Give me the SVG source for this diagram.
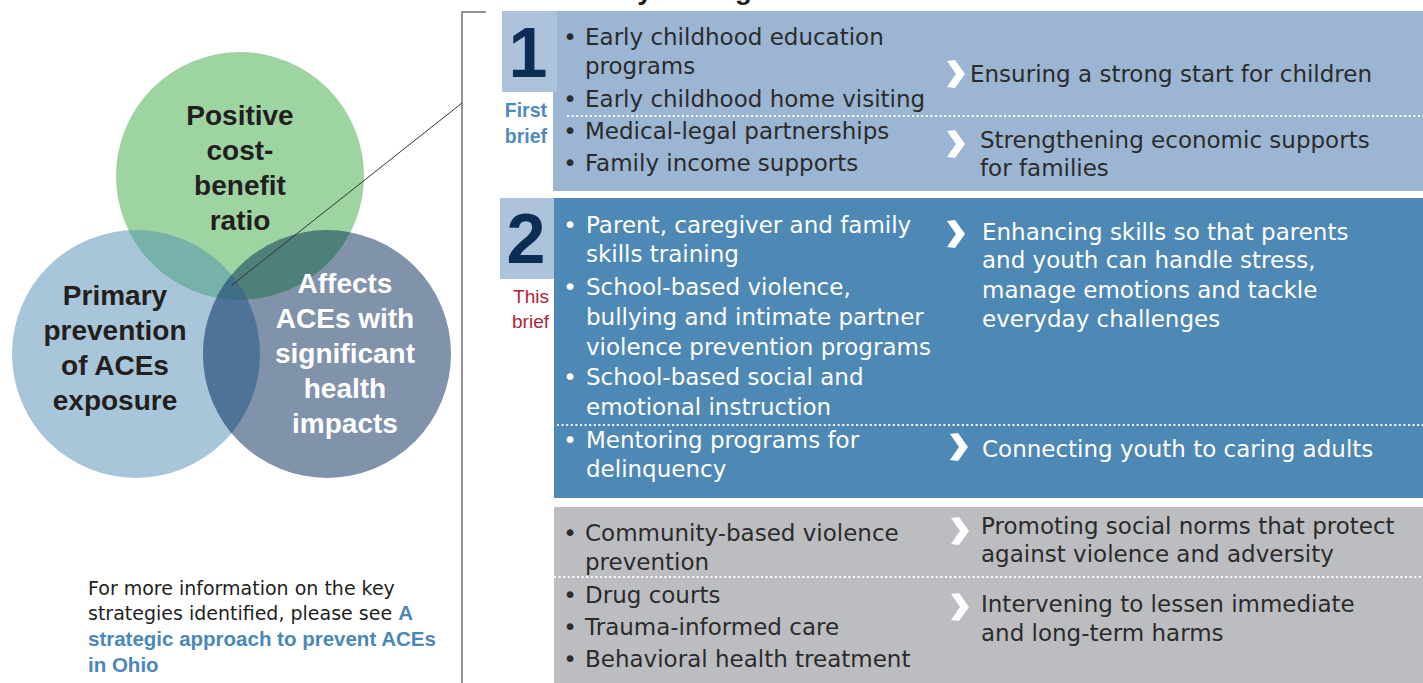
<svg xmlns="http://www.w3.org/2000/svg" width="1423" height="683" viewBox="0 0 1423 683">
  <style>
    .venn { font-family: "Liberation Sans", Arial, sans-serif; font-weight: bold; font-size: 28px; text-anchor: middle; }
    .dark { fill: #231f20; }
    .light { fill: #ffffff; }
    .item { font-family: "DejaVu Sans", "Liberation Sans", sans-serif; font-size: 23px; }
    .ink { fill: #2b2b2b; }
    .bullet { text-anchor: middle; }
    .num { font-family: "Liberation Sans", Arial, sans-serif; font-weight: bold; font-size: 70px; fill: #0d2c56; text-anchor: middle; }
    .tag-first { font-family: "Liberation Sans", Arial, sans-serif; font-weight: bold; font-size: 19.5px; fill: #4f8abb; text-anchor: end; }
    .tag-this { font-family: "Liberation Sans", Arial, sans-serif; font-size: 19px; fill: #b0223a; text-anchor: end; }
    .dots { stroke: #ffffff; stroke-width: 2; stroke-dasharray: 2 2.6; fill: none; }
    .chev { fill: #ffffff; }
    .note { font-family: "DejaVu Sans", "Liberation Sans", sans-serif; font-size: 19px; fill: #231f20; }
    .link { font-family: "Liberation Sans", Arial, sans-serif; font-weight: bold; font-size: 20.5px; fill: #4b87b8; }
  </style>
  <defs>
    <clipPath id="clip-green"><circle cx="240" cy="176" r="124"/></clipPath>
    <clipPath id="clip-blue"><circle cx="136" cy="354" r="124"/></clipPath>
    <clipPath id="clip-dark"><circle cx="327" cy="354" r="124"/></clipPath>
    <polygon id="chevron" points="0,1 8,0 18,14 8,28 0,27 9,14"/>
  </defs>

  <rect width="1423" height="683" fill="#ffffff"/>

  <!-- heading, mostly above the top edge -->
  <text x="602" y="-1" style="font-family:'Liberation Sans',Arial,sans-serif;font-weight:bold;font-size:27.5px;fill:#231f20">Key strategies</text>

  <!-- Venn diagram -->
  <g id="venn">
    <circle cx="136" cy="354" r="124" fill="#a8c5da"/>
    <circle cx="327" cy="354" r="124" fill="#8193ab"/>
    <circle cx="240" cy="176" r="124" fill="#9dd4a1"/>
    <circle cx="136" cy="354" r="124" fill="#76b1aa" clip-path="url(#clip-green)"/>
    <circle cx="327" cy="354" r="124" fill="#4e8079" clip-path="url(#clip-green)"/>
    <circle cx="327" cy="354" r="124" fill="#4f7396" clip-path="url(#clip-blue)"/>
    <g clip-path="url(#clip-green)">
      <circle cx="327" cy="354" r="124" fill="#3f6d88" clip-path="url(#clip-blue)"/>
    </g>
  </g>

  <g id="venn-cost" class="venn dark">
    <text x="240" y="125">Positive</text>
    <text x="240" y="160">cost-</text>
    <text x="240" y="195">benefit</text>
    <text x="240" y="230">ratio</text>
  </g>
  <g id="venn-primary" class="venn dark">
    <text x="115" y="305">Primary</text>
    <text x="115" y="340">prevention</text>
    <text x="115" y="375">of ACEs</text>
    <text x="115" y="410">exposure</text>
  </g>
  <g id="venn-impact" class="venn light">
    <text x="345" y="293">Affects</text>
    <text x="345" y="328">ACEs with</text>
    <text x="345" y="363">significant</text>
    <text x="345" y="398">health</text>
    <text x="345" y="433">impacts</text>
  </g>

  <!-- connectors: bracket and pointer line -->
  <g id="connectors" fill="none">
    <polyline points="486,12 462,12 462,683" stroke="#707070" stroke-width="1.5"/>
    <line x1="232" y1="285" x2="462" y2="103" stroke="#333333" stroke-width="1"/>
  </g>

  <!-- Panel 1 -->
  <g id="panel-1">
    <rect x="553" y="11" width="870" height="180" fill="#9bb5d3"/>
    <rect x="502" y="11" width="55" height="81" fill="#adc3dc"/>
    <text class="num" x="528" y="77">1</text>
    <text class="tag-first" x="547" y="117">First</text>
    <text class="tag-first" x="547" y="143">brief</text>
    <line class="dots" x1="567" y1="116" x2="1423" y2="116"/>
    <g class="item ink">
      <text class="bullet" x="570" y="45">•</text>
      <text x="585" y="45">Early childhood education</text>
      <text x="585" y="74">programs</text>
      <text class="bullet" x="570" y="107">•</text>
      <text x="585" y="107">Early childhood home visiting</text>
      <text class="bullet" x="570" y="139">•</text>
      <text x="585" y="139">Medical-legal partnerships</text>
      <text class="bullet" x="570" y="171">•</text>
      <text x="585" y="171">Family income supports</text>
      <text x="970" y="82">Ensuring a strong start for children</text>
      <text x="980" y="148">Strengthening economic supports</text>
      <text x="980" y="176">for families</text>
    </g>
    <use href="#chevron" class="chev" x="947" y="60"/>
    <use href="#chevron" class="chev" x="947" y="130"/>
  </g>

  <!-- Panel 2 -->
  <g id="panel-2">
    <rect x="554" y="198" width="869" height="300" fill="#4e88b5"/>
    <rect x="500" y="198" width="54" height="81" fill="#adc3dc"/>
    <text class="num" x="526" y="263">2</text>
    <text class="tag-this" x="549" y="303">This</text>
    <text class="tag-this" x="549" y="328">brief</text>
    <line class="dots" x1="557" y1="425" x2="1423" y2="425"/>
    <g class="item light">
      <text class="bullet" x="570" y="233">•</text>
      <text x="586" y="233">Parent, caregiver and family</text>
      <text x="586" y="262">skills training</text>
      <text class="bullet" x="570" y="295">•</text>
      <text x="586" y="295">School-based violence,</text>
      <text x="586" y="325">bullying and intimate partner</text>
      <text x="586" y="355">violence prevention programs</text>
      <text class="bullet" x="570" y="385">•</text>
      <text x="586" y="385">School-based social and</text>
      <text x="586" y="415">emotional instruction</text>
      <text class="bullet" x="570" y="448">•</text>
      <text x="586" y="448">Mentoring programs for</text>
      <text x="586" y="477">delinquency</text>
      <text x="982" y="240">Enhancing skills so that parents</text>
      <text x="982" y="268">and youth can handle stress,</text>
      <text x="982" y="298">manage emotions and tackle</text>
      <text x="982" y="327">everyday challenges</text>
      <text x="982" y="457">Connecting youth to caring adults</text>
    </g>
    <use href="#chevron" class="chev" x="947" y="220"/>
    <use href="#chevron" class="chev" x="950" y="433"/>
  </g>

  <!-- Panel 3 -->
  <g id="panel-3">
    <rect x="554" y="507" width="869" height="176" fill="#bcbdc1"/>
    <line class="dots" x1="554" y1="577" x2="1423" y2="577"/>
    <g class="item ink">
      <text class="bullet" x="570" y="541">•</text>
      <text x="585" y="541">Community-based violence</text>
      <text x="585" y="570">prevention</text>
      <text class="bullet" x="570" y="603">•</text>
      <text x="585" y="603">Drug courts</text>
      <text class="bullet" x="570" y="635">•</text>
      <text x="585" y="635">Trauma-informed care</text>
      <text class="bullet" x="570" y="667">•</text>
      <text x="585" y="667">Behavioral health treatment</text>
      <text x="981" y="534">Promoting social norms that protect</text>
      <text x="981" y="562">against violence and adversity</text>
      <text x="981" y="612">Intervening to lessen immediate</text>
      <text x="981" y="641">and long-term harms</text>
    </g>
    <use href="#chevron" class="chev" x="951" y="517"/>
    <use href="#chevron" class="chev" x="951" y="593"/>
  </g>

  <!-- reference note -->
  <g id="note">
    <text class="note" x="88" y="595">For more information on the key</text>
    <text class="note" x="88" y="620">strategies identified, please see <tspan class="link">A</tspan></text>
    <text class="link" x="88" y="646">strategic approach to prevent ACEs</text>
    <text class="link" x="88" y="672">in Ohio</text>
  </g>
</svg>
